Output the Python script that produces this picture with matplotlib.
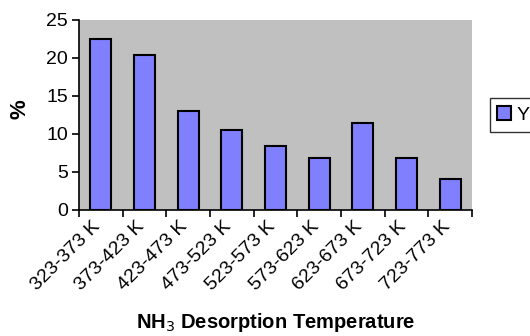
import numpy as np
import matplotlib.pyplot as plt
from matplotlib.transforms import ScaledTranslation

plt.rcParams['font.family'] = ['Liberation Sans', 'DejaVu Sans']

categories = ['323-373 K', '373-423 K', '423-473 K', '473-523 K', '523-573 K',
              '573-623 K', '623-673 K', '673-723 K', '723-773 K']
values = [22.5, 20.4, 13.0, 10.5, 8.4, 6.9, 11.5, 6.9, 4.1]
series_name = 'Y'

fig = plt.figure(figsize=(5.3, 3.36), dpi=100)
ax = fig.add_axes([79 / 530, 1 - 210 / 336, 393 / 530, 190 / 336])
ax.set_facecolor('#c0c0c0')

x = np.arange(len(categories))
ax.bar(x, values, width=0.48, color='#8080ff', edgecolor='black', linewidth=1.5,
       label=series_name, zorder=3)

ax.set_xlim(-0.5, len(categories) - 0.5)
ax.set_ylim(0, 25)
ax.set_yticks([0, 5, 10, 15, 20, 25])

# category labels, tick marks between categories
ax.set_xticks(x)
ax.set_xticklabels(categories, rotation=45, ha='right', rotation_mode='anchor', fontsize=14)
ax.tick_params(axis='x', which='major', length=0, pad=6)
shift = ScaledTranslation(-9 / 100, 0, fig.dpi_scale_trans)
for lbl in ax.get_xticklabels():
    lbl.set_transform(lbl.get_transform() + shift)
ax.set_xticks(np.arange(len(categories) + 1) - 0.5, minor=True)
ax.tick_params(axis='x', which='minor', length=5, width=1.2, direction='out')
ax.tick_params(axis='y', length=5, width=1.2, direction='out', labelsize=14, pad=3)

for side in ['top', 'right']:
    ax.spines[side].set_visible(False)
ax.spines['left'].set_linewidth(1.2)
ax.spines['bottom'].set_linewidth(1.2)

ax.set_ylabel('%', fontsize=16, fontweight='bold', va='center')
ax.yaxis.set_label_coords(-59 / 393, 0.53)
ax.set_xlabel('NH$_3$ Desorption Temperature', fontsize=14.5, fontweight='bold', va='center')
ax.xaxis.set_label_coords(0.5, -113 / 190)

leg = ax.legend(loc='center left', bbox_to_anchor=(1.02, 0.5), fontsize=14,
                frameon=True, fancybox=False, edgecolor='black', borderpad=0.4,
                handlelength=0.7, handleheight=0.7, handletextpad=0.3)
leg.get_frame().set_linewidth(1.0)

plt.savefig('out.png', dpi=100)
